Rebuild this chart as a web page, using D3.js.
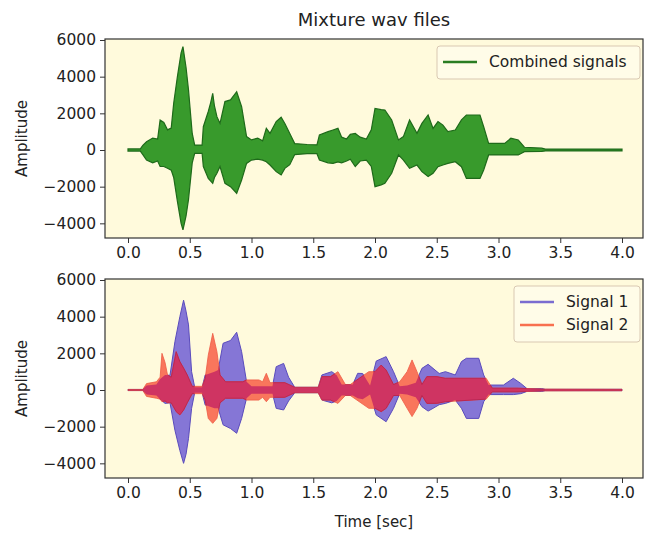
<!DOCTYPE html>
<html>
<head>
<meta charset="utf-8">
<script src="https://cdn.jsdelivr.net/npm/d3@7"></script>
<style>
  body { margin: 0; background: #fff; }
  svg text { font-family: "DejaVu Sans", sans-serif; fill: #222; }
</style>
</head>
<body>
<svg id="chart" width="645" height="535"></svg>
<script>
// envelope of each waveform: time (s), upper, lower amplitude
const combinedT  = [0, 0.10, 0.12, 0.15, 0.20, 0.24, 0.26, 0.29, 0.32, 0.35, 0.37, 0.40, 0.43, 0.445, 0.47, 0.49, 0.52, 0.54, 0.60, 0.61, 0.65, 0.67, 0.686, 0.70, 0.72, 0.745, 0.785, 0.83, 0.88, 0.92, 0.96, 1.00, 1.05, 1.09, 1.12, 1.15, 1.20, 1.24, 1.27, 1.31, 1.35, 1.45, 1.53, 1.55, 1.62, 1.66, 1.70, 1.73, 1.77, 1.80, 1.84, 1.88, 1.93, 1.97, 2.00, 2.05, 2.08, 2.135, 2.19, 2.23, 2.28, 2.34, 2.38, 2.43, 2.47, 2.51, 2.55, 2.59, 2.65, 2.70, 2.74, 2.85, 2.88, 2.92, 3.05, 3.10, 3.16, 3.21, 3.35, 3.38, 4.00];
const combinedUp = [60, 60, 250, 450, 650, 600, 1640, 1500, 1100, 1200, 2550, 4000, 5300, 5640, 4500, 3270, 900, 270, 270, 1270, 2100, 2600, 3090, 2400, 1820, 1450, 2640, 2730, 3180, 2360, 730, 550, 650, 500, 1180, 910, 1550, 1790, 1450, 900, 350, 300, 280, 820, 1000, 1090, 1180, 700, 600, 850, 900, 700, 600, 1100, 2270, 2200, 2180, 1640, 550, 730, 1640, 910, 1450, 1910, 1180, 1550, 1360, 1000, 1090, 1640, 1910, 1910, 1270, 360, 360, 640, 550, 150, 100, 50, 50];
const combinedLo = [-60, -60, -250, -550, -700, -600, -900, -900, -1000, -1100, -1500, -2800, -4000, -4360, -3600, -2700, -700, -180, -180, -900, -1550, -1700, -1820, -1500, -1270, -900, -1820, -2000, -2360, -1640, -730, -550, -500, -550, -640, -820, -1180, -1360, -1000, -800, -250, -200, -200, -550, -700, -730, -650, -700, -600, -500, -900, -600, -550, -900, -2000, -1900, -1820, -1270, -270, -550, -1000, -820, -1180, -1450, -1270, -910, -820, -730, -640, -910, -1550, -1550, -1090, -270, -270, -270, -270, -90, -80, -50, -50];

const signal1T  = [0, 0.12, 0.15, 0.23, 0.26, 0.30, 0.34, 0.38, 0.42, 0.45, 0.47, 0.49, 0.515, 0.54, 0.60, 0.625, 0.66, 0.70, 0.73, 0.77, 0.83, 0.88, 0.92, 0.96, 1.00, 1.17, 1.20, 1.26, 1.30, 1.35, 1.54, 1.57, 1.65, 1.69, 1.73, 1.82, 1.86, 1.90, 1.96, 2.01, 2.09, 2.15, 2.20, 2.26, 2.33, 2.38, 2.43, 2.47, 2.52, 2.57, 2.65, 2.70, 2.74, 2.84, 2.88, 2.92, 3.04, 3.12, 3.18, 3.23, 3.35, 3.38, 4.00];
const signal1Up = [30, 30, 250, 300, 600, 820, 800, 2640, 4000, 4900, 4300, 3550, 1000, 150, 150, 820, 900, 1000, 1090, 2550, 2700, 3150, 2090, 450, 200, 200, 1270, 1450, 700, 150, 150, 820, 1000, 800, 300, 300, 910, 900, 250, 1580, 1820, 1000, 200, 250, 400, 1180, 1400, 1180, 900, 1000, 820, 1550, 1730, 1730, 820, 270, 270, 640, 360, 80, 80, 40, 40];
const signal1Lo = [-30, -30, -250, -300, -500, -730, -700, -2200, -3300, -4000, -3500, -2640, -1000, -150, -150, -820, -900, -1000, -1000, -1900, -2100, -2360, -1550, -450, -200, -200, -1000, -1090, -600, -150, -150, -550, -700, -600, -300, -300, -450, -500, -250, -1360, -1730, -1000, -200, -250, -400, -910, -1150, -1000, -800, -730, -550, -1000, -1550, -1550, -640, -250, -250, -250, -200, -80, -80, -40, -40];

const signal2T  = [0, 0.12, 0.15, 0.23, 0.26, 0.275, 0.30, 0.32, 0.35, 0.39, 0.42, 0.45, 0.48, 0.52, 0.60, 0.625, 0.65, 0.686, 0.72, 0.745, 0.79, 0.93, 0.96, 1.06, 1.09, 1.12, 1.15, 1.27, 1.35, 1.54, 1.57, 1.64, 1.70, 1.76, 1.80, 1.95, 2.00, 2.05, 2.09, 2.15, 2.20, 2.26, 2.30, 2.34, 2.38, 2.42, 2.50, 2.57, 2.90, 2.95, 3.15, 3.35, 4.00];
const signal2Up = [30, 30, 350, 450, 700, 2000, 1500, 820, 700, 2090, 1550, 1200, 820, 200, 200, 640, 1900, 3090, 2090, 820, 450, 450, 550, 550, 450, 910, 400, 400, 150, 150, 730, 730, 1000, 300, 300, 1000, 1000, 1360, 1090, 300, 450, 1000, 1640, 1000, 300, 730, 730, 640, 640, 100, 100, 50, 40];
const signal2Lo = [-30, -30, -350, -450, -500, -640, -600, -700, -700, -1180, -1360, -1100, -700, -200, -200, -550, -1550, -1820, -1550, -700, -450, -450, -550, -550, -400, -640, -400, -400, -150, -150, -550, -550, -730, -300, -300, -1000, -1000, -1180, -1000, -300, -300, -1000, -1450, -1000, -300, -730, -730, -640, -500, -100, -100, -50, -40];

const xTicks = [0, 0.5, 1.0, 1.5, 2.0, 2.5, 3.0, 3.5, 4.0];
const yTicks = [-4000, -2000, 0, 2000, 4000, 6000];

const toRows = (t, up, lo) => t.map((d, i) => ({ t: d, up: up[i], lo: lo[i] }));
const combined = toRows(combinedT, combinedUp, combinedLo);
const signal1 = toRows(signal1T, signal1Up, signal1Lo);
const signal2 = toRows(signal2T, signal2Up, signal2Lo);

const bg = '#fffadc';
const svg = d3.select('#chart');

const panels = [
  { top: 39, bottom: 238 },
  { top: 279, bottom: 478 }
];
const left = 105, right = 643;

const x = d3.scaleLinear().domain([0, 4]).range([128, 622]);

const makeY = (p) => {
  // 0 sits 111px below the top spine, 6000 units = 110px
  const zero = p.top + 111;
  return d3.scaleLinear().domain([0, 6000]).range([zero, zero - 110]);
};

const drawPanel = (p, i) => {
  const y = makeY(p);
  const g = svg.append('g');

  g.append('rect')
    .attr('x', left).attr('y', p.top)
    .attr('width', right - left).attr('height', p.bottom - p.top)
    .attr('fill', bg);

  g.append('clipPath').attr('id', 'clip' + i)
    .append('rect')
    .attr('x', left).attr('y', p.top)
    .attr('width', right - left).attr('height', p.bottom - p.top);

  const xAxis = d3.axisBottom(x).tickValues(xTicks).tickFormat(d3.format('.1f')).tickSizeOuter(0).tickSize(5).tickPadding(4);
  const yAxis = d3.axisLeft(y).tickValues(yTicks).tickFormat(d3.format('d')).tickSizeOuter(0).tickSize(5).tickPadding(4);

  const gx = g.append('g').attr('transform', `translate(0,${p.bottom})`).call(xAxis);
  const gy = g.append('g').attr('transform', `translate(${left},0)`).call(yAxis);
  [gx, gy].forEach(a => {
    a.select('.domain').remove();
    a.selectAll('.tick line').attr('stroke', '#333');
    a.selectAll('.tick text').style('font-size', '15.5px').attr('fill', '#222');
  });

  g.append('text')
    .attr('transform', `translate(27,${(p.top + p.bottom) / 2}) rotate(-90)`)
    .attr('text-anchor', 'middle')
    .style('font-size', '15px')
    .text('Amplitude');

  return { g, y };
};

const areaFor = (y) => d3.area()
  .x(d => x(d.t))
  .y0(d => y(d.lo))
  .y1(d => y(d.up));

// top panel
const upper = drawPanel(panels[0], 0);
const plotUpper = upper.g.append('g').attr('clip-path', 'url(#clip0)');
plotUpper.append('path')
  .datum(combined)
  .attr('d', areaFor(upper.y))
  .attr('fill', '#389a2c')
  .attr('stroke', '#1e6a1a')
  .attr('stroke-width', 1.2);

// bottom panel
const lower = drawPanel(panels[1], 1);
const plotLower = lower.g.append('g').attr('clip-path', 'url(#clip1)');
const a2 = areaFor(lower.y);

svg.append('clipPath').attr('id', 'sig1shape')
  .append('path').datum(signal1).attr('d', a2);

plotLower.append('path')
  .datum(signal1)
  .attr('d', a2)
  .attr('fill', '#8576d6')
  .attr('stroke', '#5a4bbd')
  .attr('stroke-width', 1);
plotLower.append('path')
  .datum(signal2)
  .attr('d', a2)
  .attr('fill', '#f9765c')
  .attr('stroke', '#ee5a44')
  .attr('stroke-width', 0.8);
plotLower.append('path')
  .datum(signal2)
  .attr('d', a2)
  .attr('clip-path', 'url(#sig1shape)')
  .attr('fill', '#cf3462')
  .attr('stroke', '#b02050')
  .attr('stroke-width', 0.8);

// spines on top of the marks
panels.forEach(p => {
  svg.append('rect')
    .attr('x', left).attr('y', p.top)
    .attr('width', right - left).attr('height', p.bottom - p.top)
    .attr('fill', 'none')
    .attr('stroke', '#333')
    .attr('stroke-width', 1.2);
});

// title and x label
svg.append('text')
  .attr('x', (left + right) / 2).attr('y', 26)
  .attr('text-anchor', 'middle')
  .style('font-size', '18px')
  .text('Mixture wav files');

svg.append('text')
  .attr('x', (left + right) / 2).attr('y', 527)
  .attr('text-anchor', 'middle')
  .style('font-size', '15px')
  .text('Time [sec]');

// legends
const legend = (x0, y0, w, items) => {
  const lg = svg.append('g').attr('transform', `translate(${x0},${y0})`);
  lg.append('rect')
    .attr('width', w).attr('height', 10 + items.length * 23)
    .attr('rx', 3)
    .attr('fill', '#fffce8')
    .attr('stroke', '#d9c8b2');
  items.forEach((it, i) => {
    const cy = 16 + i * 23;
    lg.append('line')
      .attr('x1', 6).attr('x2', 40).attr('y1', cy).attr('y2', cy)
      .attr('stroke', it.color).attr('stroke-width', 2.5);
    lg.append('text')
      .attr('x', 52).attr('y', cy + 5)
      .style('font-size', '15.5px')
      .text(it.label);
  });
};

legend(437, 46, 203, [{ label: 'Combined signals', color: '#2a7d22' }]);
legend(514, 286, 126, [
  { label: 'Signal 1', color: '#7a6cd0' },
  { label: 'Signal 2', color: '#f8704f' }
]);
</script>
</body>
</html>
